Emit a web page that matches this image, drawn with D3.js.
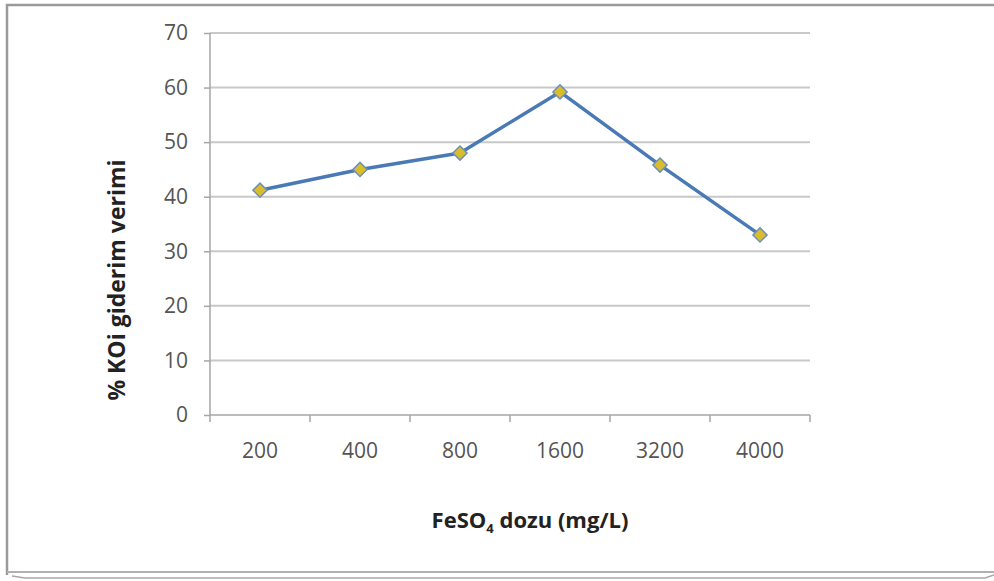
<!DOCTYPE html>
<html>
<head>
<meta charset="utf-8">
<script src="https://cdn.jsdelivr.net/npm/d3@7/dist/d3.min.js"></script>
<style>
  html, body { margin: 0; padding: 0; background: #fff; }
  svg { display: block; }
</style>
</head>
<body>
<svg id="chart" width="994" height="581"></svg>
<script>
// FeSO4 dose categories and COD removal efficiency (%)
const doses = ["200", "400", "800", "1600", "3200", "4000"];
const removal = [41.2, 45, 48, 59.2, 45.8, 33];
const yTicks = [0, 10, 20, 30, 40, 50, 60, 70];

const svg = d3.select("#chart");
const W = 994, H = 581;
const margin = { left: 210, right: 184, top: 33, bottom: 166 };
const plotW = W - margin.left - margin.right; // 600
const plotH = H - margin.top - margin.bottom; // 382
const font = "'Open Sans', 'Liberation Sans', sans-serif";

// outer frame
const frame = svg.append("g");
frame.append("path")
  .attr("d", `M7,575 L7,5 L994,5`)
  .attr("fill", "none").attr("stroke", "#9a9a9a").attr("stroke-width", 2.5);
frame.append("path")
  .attr("d", `M7,572 L994,572`)
  .attr("fill", "none").attr("stroke", "#b0b0b0").attr("stroke-width", 2);
frame.append("path")
  .attr("d", `M12,576 L25,578 L985,578 L994,575`)
  .attr("fill", "none").attr("stroke", "#a8a8a8").attr("stroke-width", 1.5);

const g = svg.append("g").attr("transform", `translate(${margin.left},${margin.top})`);

const x = d3.scaleBand().domain(doses).range([0, plotW]).padding(0);
const y = d3.scaleLinear().domain([0, 70]).range([plotH, 0]);

// horizontal gridlines
g.append("g").selectAll("line").data(yTicks.filter(d => d > 0)).join("line")
  .attr("x1", 0).attr("x2", plotW)
  .attr("y1", d => y(d)).attr("y2", d => y(d))
  .attr("stroke", "#c8c8c8").attr("stroke-width", 2);

// y axis
const yAxis = g.append("g")
  .call(d3.axisLeft(y).tickValues(yTicks).tickSize(6).tickPadding(16));
yAxis.select(".domain").attr("stroke", "#a6a6a6").attr("stroke-width", 1.5)
  .attr("d", `M0,${plotH}V0`);
yAxis.selectAll(".tick line").attr("stroke", "#a6a6a6").attr("stroke-width", 1.5);
yAxis.selectAll(".tick text")
  .attr("font-family", font)
  .attr("font-size", 21).attr("fill", "#555");

// x axis with ticks at category boundaries
const xAxisG = g.append("g").attr("transform", `translate(0,${plotH})`);
xAxisG.append("line").attr("x1", 0).attr("x2", plotW)
  .attr("stroke", "#a6a6a6").attr("stroke-width", 1.5);
const bounds = doses.map(d => x(d)).concat([plotW]);
xAxisG.selectAll("line.tk").data(bounds).join("line").attr("class", "tk")
  .attr("x1", d => d).attr("x2", d => d).attr("y1", 0).attr("y2", 7)
  .attr("stroke", "#a6a6a6").attr("stroke-width", 1.5);
xAxisG.selectAll("text").data(doses).join("text")
  .attr("x", d => x(d) + x.bandwidth() / 2).attr("y", 43)
  .attr("text-anchor", "middle")
  .attr("font-family", font)
  .attr("font-size", 21).attr("fill", "#555")
  .text(d => d);

// series line
const line = d3.line()
  .x((d, i) => x(doses[i]) + x.bandwidth() / 2)
  .y(d => y(d));
g.append("path").datum(removal)
  .attr("d", line).attr("fill", "none")
  .attr("stroke", "#4a7ab5").attr("stroke-width", 3.5)
  .attr("stroke-linejoin", "round");

// diamond markers
g.selectAll("path.pt").data(removal).join("path").attr("class", "pt")
  .attr("d", d3.symbol().type(d3.symbolSquare).size(100))
  .attr("transform", (d, i) => `translate(${x(doses[i]) + x.bandwidth() / 2},${y(d)}) rotate(45)`)
  .attr("fill", "#d9bd2a").attr("stroke", "#6f8fb8").attr("stroke-width", 1.5);

// axis titles
svg.append("text")
  .attr("transform", `translate(125,280) rotate(-90)`)
  .attr("text-anchor", "middle")
  .attr("font-family", font)
  .attr("font-size", 23).attr("font-weight", "bold").attr("fill", "#222")
  .text("% KOi giderim verimi");

const xt = svg.append("text")
  .attr("x", 530).attr("y", 528)
  .attr("text-anchor", "middle")
  .attr("font-family", font)
  .attr("font-size", 22).attr("font-weight", "bold").attr("fill", "#222");
xt.append("tspan").text("FeSO");
xt.append("tspan").attr("font-size", 13).attr("dy", 5).text("4");
xt.append("tspan").attr("dy", -5).text(" dozu (mg/L)");
</script>
</body>
</html>
